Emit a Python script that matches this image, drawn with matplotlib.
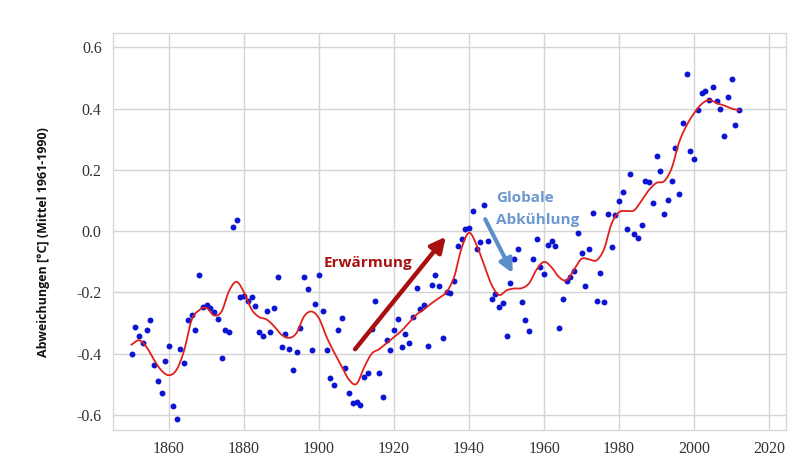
import numpy as np
import matplotlib
matplotlib.use("Agg")
import matplotlib.pyplot as plt

# ---- data: annual anomalies ----
years = list(range(1850, 2013))
anomaly = [
    -0.400, -0.314, -0.342, -0.366, -0.321, -0.289, -0.438, -0.489, -0.528, -0.422,  # 1850-59
    -0.375, -0.571, -0.612, -0.383, -0.430, -0.290, -0.274, -0.322, -0.143, -0.247,  # 1860-69
    -0.240, -0.252, -0.264, -0.288, -0.414, -0.322, -0.329, 0.014, 0.037, -0.215,    # 1870-79
    -0.211, -0.229, -0.214, -0.244, -0.329, -0.341, -0.262, -0.330, -0.249, -0.151,  # 1880-89
    -0.379, -0.336, -0.384, -0.454, -0.393, -0.315, -0.151, -0.188, -0.389, -0.238,  # 1890-99
    -0.144, -0.259, -0.387, -0.478, -0.502, -0.322, -0.284, -0.445, -0.529, -0.562,  # 1900-09
    -0.558, -0.567, -0.476, -0.464, -0.320, -0.228, -0.464, -0.540, -0.355, -0.388,  # 1910-19
    -0.324, -0.286, -0.377, -0.336, -0.366, -0.279, -0.186, -0.255, -0.240, -0.373,  # 1920-29
    -0.175, -0.142, -0.179, -0.350, -0.200, -0.202, -0.163, -0.048, -0.027, 0.007,   # 1930-39
    0.011, 0.065, -0.058, -0.036, 0.086, -0.033, -0.221, -0.206, -0.248, -0.233,     # 1940-49
    -0.342, -0.170, -0.091, -0.057, -0.232, -0.291, -0.325, -0.092, -0.026, -0.117,  # 1950-59
    -0.140, -0.045, -0.033, -0.048, -0.316, -0.221, -0.161, -0.150, -0.129, -0.005,  # 1960-69
    -0.072, -0.179, -0.058, 0.058, -0.227, -0.135, -0.230, 0.057, -0.052, 0.054,     # 1970-79
    0.099, 0.128, 0.007, 0.185, -0.010, -0.021, 0.021, 0.164, 0.162, 0.092,          # 1980-89
    0.246, 0.196, 0.057, 0.101, 0.163, 0.273, 0.122, 0.354, 0.514, 0.261,            # 1990-99
    0.237, 0.397, 0.452, 0.457, 0.428, 0.472, 0.425, 0.399, 0.310, 0.437,            # 2000-09
    0.497, 0.345, 0.394,                                                             # 2010-12
]

# ---- smoothed curve ----
smooth_years = list(range(1850, 2013, 2))
smooth_vals = [
    -0.370, -0.356, -0.378, -0.420, -0.455, -0.470, -0.452, -0.390, -0.290, -0.258,  # 1850-68
    -0.250, -0.275, -0.262, -0.195, -0.165, -0.200, -0.255, -0.280, -0.288, -0.310,  # 1870-88
    -0.338, -0.348, -0.332, -0.278, -0.262, -0.285, -0.345, -0.395, -0.440, -0.485,  # 1890-1908
    -0.498, -0.445, -0.400, -0.385, -0.365, -0.345, -0.325, -0.298, -0.272, -0.255,  # 1910-28
    -0.235, -0.218, -0.198, -0.150, -0.055, -0.005, -0.045, -0.110, -0.175, -0.208,  # 1930-48
    -0.193, -0.187, -0.186, -0.170, -0.125, -0.100, -0.118, -0.150, -0.160, -0.125,  # 1950-68
    -0.090, -0.092, -0.095, -0.058, 0.025, 0.062, 0.066, 0.068, 0.100, 0.135,        # 1970-88
    0.158, 0.163, 0.205, 0.290, 0.345, 0.385, 0.415, 0.428, 0.418, 0.410,            # 1990-2008
    0.400, 0.395,                                                                    # 2010-12
]

xticks = [1860, 1880, 1900, 1920, 1940, 1960, 1980, 2000, 2020]
yticks = [-0.6, -0.4, -0.2, 0.0, 0.2, 0.4, 0.6]
ylabel = "Abweichungen [°C] (Mittel 1961-1990)"


def smooth_path(xs, ys, steps=12):
    """Catmull-Rom rendering through the given points (like a 'smoothed line')."""
    xs = np.asarray(xs, float)
    ys = np.asarray(ys, float)
    px = np.concatenate([[2 * xs[0] - xs[1]], xs, [2 * xs[-1] - xs[-2]]])
    py = np.concatenate([[2 * ys[0] - ys[1]], ys, [2 * ys[-1] - ys[-2]]])
    outx, outy = [], []
    t = np.linspace(0, 1, steps, endpoint=False)
    for i in range(1, len(px) - 2):
        for arr, out in ((px, outx), (py, outy)):
            p0, p1, p2, p3 = arr[i - 1], arr[i], arr[i + 1], arr[i + 2]
            out.extend(0.5 * ((2 * p1) + (-p0 + p2) * t
                              + (2 * p0 - 5 * p1 + 4 * p2 - p3) * t ** 2
                              + (-p0 + 3 * p1 - 3 * p2 + p3) * t ** 3))
    outx.append(xs[-1])
    outy.append(ys[-1])
    return outx, outy


fig = plt.figure(figsize=(8.0, 4.61), dpi=100)
ax = fig.add_axes([0.141, 0.067, 0.8415, 0.861])

ax.set_xlim(1845.0, 2024.5)
ax.set_ylim(-0.649, 0.646)

ax.grid(True, color="#d4d4d4", linewidth=1.0)
ax.set_axisbelow(True)
for s in ax.spines.values():
    s.set_color("#d9d9d9")
    s.set_linewidth(1.0)

ax.set_xticks(xticks)
ax.set_yticks(yticks)
ax.set_xticklabels([str(t) for t in xticks])
ax.set_yticklabels([f"{t:.1f}" for t in yticks])
ax.tick_params(length=0, pad=8, labelsize=11.5, colors="#333333")
for lab in ax.get_xticklabels() + ax.get_yticklabels():
    lab.set_family("Liberation Serif")

ax.scatter(years, anomaly, s=18, color="#0a14d2", zorder=3, linewidths=0)
cx, cy = smooth_path(smooth_years, smooth_vals)
ax.plot(cx, cy, color="#e0201c", linewidth=1.3, zorder=4)

# annotations
ax.annotate("", xy=(1933.8, -0.018), xytext=(1909.6, -0.385),
            arrowprops=dict(arrowstyle="-|>,head_length=0.9,head_width=0.45",
                            color="#a81010", linewidth=3.2, shrinkA=0, shrinkB=0),
            zorder=5)
ax.text(1912.9, -0.104, "Erwärmung", color="#a81010", fontsize=11, fontweight="bold",
        family="Open Sans", ha="center", va="center", zorder=6)

ax.annotate("", xy=(1951.6, -0.137), xytext=(1944.3, 0.039),
            arrowprops=dict(arrowstyle="-|>,head_length=0.8,head_width=0.4",
                            color="#5b8fcb", linewidth=3.0, shrinkA=0, shrinkB=0),
            zorder=5)
ax.text(1947.2, 0.108, "Globale", color="#6a98cf", fontsize=11, fontweight="bold",
        family="Open Sans", ha="left", va="center", zorder=6)
ax.text(1947.2, 0.036, "Abkühlung", color="#6a98cf", fontsize=11, fontweight="bold",
        family="Open Sans", ha="left", va="center", zorder=6)

fig.text(0.054, 0.475, ylabel, rotation=90, ha="center", va="center",
         fontsize=9, fontweight="bold", family="Open Sans", color="#111111")

fig.savefig("out.png", dpi=100)
